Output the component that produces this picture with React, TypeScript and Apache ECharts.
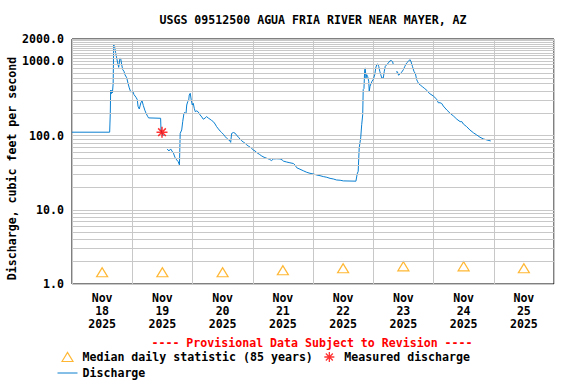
import React, { useEffect, useRef } from "react";
import * as echarts from "echarts";

const TITLE = "USGS 09512500 AGUA FRIA RIVER NEAR MAYER, AZ";
const PROVISIONAL = "---- Provisional Data Subject to Revision ----";
const Y_NAME = "Discharge, cubic feet per second";
const MEDIAN_NAME = "Median daily statistic (85 years)";
const MEASURED_NAME = "Measured discharge";
const DISCHARGE_NAME = "Discharge";

const START_UTC = Date.UTC(2025, 10, 18);
const DAY_MS = 86400000;
const HOUR_MS = 3600000;
const DAYS = 8;
const MONTHS = ["Jan", "Feb", "Mar", "Apr", "May", "Jun", "Jul", "Aug", "Sep", "Oct", "Nov", "Dec"];

// hours since Nov 18 2025 00:00
const dischargeHours = [
  0, 15.0, 15.25, 15.4, 15.6, 15.8, 16.1, 16.4, 16.6, 17.0, 17.4, 17.8, 18.2, 18.6, 19.1, 19.4, 19.8,
  20.2, 20.7, 21.1, 21.8, 22.3, 22.8, 23.4, 24.2, 24.7, 25.5, 26.0, 26.3, 26.8, 27.4, 27.9, 28.4, 29.0,
  29.5, 30.1, 30.5, 35.3, 35.45, 35.9, 36.4, 36.9, 37.9, 38.6, 39.3, 39.8, 40.4, 41.0, 41.7, 42.3, 42.8,
  43.1, 43.7, 44.1, 44.6, 45.0, 45.4, 45.7, 46.1, 46.5, 46.7, 47.1, 47.5, 47.9, 48.3, 48.7, 49.1, 49.7,
  50.3, 51.0, 51.7, 52.3, 53.0, 53.6, 54.3, 55.0, 55.6, 56.3, 57.0, 57.6, 58.3, 59.0, 59.6, 60.3, 61.0,
  61.6, 62.3, 62.9, 63.2, 63.6, 64.3, 64.9, 65.6, 66.3, 66.9, 67.6, 68.2, 68.9, 69.6, 70.2, 70.9, 71.6,
  72.2, 72.9, 73.6, 74.6, 75.6, 76.5, 77.6, 78.6, 79.5, 80.2, 81.5, 82.9, 83.7, 84.2, 85.5, 86.8, 88.2,
  88.8, 89.5, 90.8, 92.1, 93.5, 94.8, 96.1, 97.5, 98.8, 100.1, 101.5, 102.8, 104.1, 105.4, 106.8, 108.1,
  113.1, 113.6, 114.0, 114.4, 115.0, 115.4, 115.8, 116.0, 116.3, 116.6, 116.8, 117.1, 117.4, 117.8, 118.2,
  118.4, 118.7, 119.1, 119.5, 120.0, 120.6, 121.0, 121.4, 121.8, 122.2, 122.6, 123.0, 123.4, 124.0, 124.4,
  124.8, 125.4, 126.0, 126.7, 127.3, 127.7, 128.0, 128.5, 129.1, 129.6, 130.1, 130.7, 131.3, 132.0, 132.6,
  133.3, 134.0, 134.6, 135.0, 135.6, 136.2, 136.8, 137.3, 137.7, 138.2, 138.9, 139.7, 140.3, 141.0, 141.7,
  142.3, 143.9, 145.3, 145.9, 146.6, 147.3, 147.9, 149.3, 150.6, 151.9, 152.6, 153.3, 154.6, 155.3, 155.9,
  157.2, 158.5, 159.9, 161.2, 162.5, 163.8, 165.2, 166.8,
];

const dischargeCfs: (number | null)[] = [
  111, 111, 200, 410, 365, 405, 375, 500, 1680, 1550, 1300, 1110, 950, 830, 1110, 1090, 900,
  775, 735, 660, 600, 510, 440, 387, 397, 356, 328, 305, 248, 228, 275, 295, 255, 220,
  200, 182, 173, 171, 119, 107, 99, null, 66, 62, 66, 62, 58, 51, 47, 44.5, 40.2,
  107, 119, 154, 200, 205, 195, 258, 286, 300, 352, 371, 302, 258, 272, 233, 210, 215,
  208, 190, 178, 166, 172, 180, 172, 166, 160, 154, 143, 132, 123, 115, 110, 104, 97,
  92, 88, 85, 81, 107, 110, 108, 101, 95, 90, 85, 82, 79, 75, 72.4, 70, 67,
  64, 62, 59, 56, 53, 51, 49.4, 48, 46, 48.4, 48.7, 48.4, 47, 45.3, 44, 43, 42,
  40.2, 36.9, 35.2, 33.6, 32, 31, 30.4, 29.4, 28.8, 28, 27.4, 26.5, 26, 25.2, 25, 24.5,
  24.3, 30.4, 33, 68, 93, 140, 191, 416, 430, 773, 815, 597, 662, 620, 539,
  395, 460, 500, 539, 570, 662, 815, 903, 922, 850, 735, 660, 597, 597, 735,
  858, 900, 951, 1021, 1021, 990, 903, null, 719, 725, 650, 680, 713, 773, 858,
  951, 1000, 1054, 1000, 858, 735, 680, 567, 530, 496, 475, 452, 435, 416, 395,
  371, 342, 308, 277, 277, 270, 250, 221, 200, 184, 175, 166, 154, 154, 143,
  132, 119, 109, 102, 95, 90.2, 87.4, 84.6,
];

const medianDays = [18, 19, 20, 21, 22, 23, 24, 25];
const medianCfs = [1.44, 1.44, 1.44, 1.53, 1.63, 1.73, 1.73, 1.63];

const measuredHours = [35.85];
const measuredCfs = [111];

const yMinorGrid = [
  2, 3, 4, 5, 6, 7, 8, 9,
  20, 30, 40, 50, 60, 70, 80, 90,
  200, 300, 400, 500, 600, 700, 800, 900,
  1100, 1200, 1300, 1400, 1500, 1600, 1700, 1800, 1900,
];

const FONT_FAMILY = '"DejaVu Sans Mono", "Liberation Mono", monospace';
const FONT_SIZE = 11.6;
const GRID_COLOR = "#c8c8c8";
const LINE_COLOR = "#0a7fd0";
const MEDIAN_COLOR = "#ffa500";
const MEASURED_COLOR = "#ff0000";
const ASTERISK = "path://M5,0L5,10M0,5L10,5M1.5,1.5L8.5,8.5M1.5,8.5L8.5,1.5";
// legend icons drawn in a 20x10 box (the leading moves fix the box)
const LEGEND_TRIANGLE = "path://M0,0M20,10M4.5,9.5L10,0.5L15.5,9.5Z";
const LEGEND_ASTERISK = "path://M0,0M20,10M5,5L15,5M10,0L10,10M6.5,1.5L13.5,8.5M6.5,8.5L13.5,1.5";
const LEGEND_LINE = "path://M0,0M20,10M0,5L20,5";

export default function App() {
  const ref = useRef<HTMLDivElement>(null);

  useEffect(() => {
    if (!ref.current) return;
    document.body.style.margin = "0";
    const chart = echarts.init(ref.current, undefined, { renderer: "svg" });

    const dischargeData = dischargeHours.map((h, i) => [START_UTC + h * HOUR_MS, dischargeCfs[i]]);
    const medianData = medianDays.map((d, i) => [Date.UTC(2025, 10, d, 12), medianCfs[i]]);
    const measuredData = measuredHours.map((h, i) => [START_UTC + h * HOUR_MS, measuredCfs[i]]);

    const textBase = { fontFamily: FONT_FAMILY, fontSize: FONT_SIZE, fontWeight: "bold" as const, color: "#000" };

    chart.setOption({
      animation: false,
      backgroundColor: "#fff",
      grid: {
        left: 72,
        right: 22,
        top: 39,
        bottom: 100,
        show: true,
        borderColor: "#000",
        borderWidth: 1,
        backgroundColor: "transparent",
        containLabel: false,
        outerBoundsMode: "none",
      },
      xAxis: [
        {
          type: "value",
          min: START_UTC,
          max: START_UTC + DAYS * DAY_MS,
          interval: DAY_MS,
          axisLine: { show: false },
          axisTick: { show: false },
          axisLabel: { show: false },
          splitLine: { show: true, lineStyle: { color: GRID_COLOR, width: 1 } },
        },
        {
          type: "value",
          position: "bottom",
          min: START_UTC,
          max: START_UTC + DAYS * DAY_MS,
          interval: DAY_MS / 2,
          axisLine: { show: false },
          axisTick: { show: false },
          splitLine: { show: false },
          axisLabel: {
            ...textBase,
            margin: 7,
            lineHeight: 13,
            showMinLabel: true,
            showMaxLabel: true,
            formatter: (v: number) => {
              const d = new Date(v);
              if (d.getUTCHours() !== 12) return "";
              return `${MONTHS[d.getUTCMonth()]}\n${d.getUTCDate()}\n${d.getUTCFullYear()}`;
            },
          },
        },
      ],
      yAxis: {
        type: "log",
        logBase: 10,
        min: 1,
        max: 2000,
        name: Y_NAME,
        nameLocation: "middle",
        nameGap: 54,
        nameRotate: 90,
        nameMoveOverlap: false,
        nameTextStyle: { ...textBase, padding: [0, 14, 0, 0] },
        axisLine: { show: false },
        axisTick: { show: false },
        splitLine: { show: true, lineStyle: { color: GRID_COLOR, width: 1 } },
        axisLabel: {
          ...textBase,
          margin: 8,
          showMaxLabel: true,
          showMinLabel: true,
          formatter: (v: number) => Number(v).toFixed(1),
        },
      },
      legend: [
        {
          left: 55,
          top: 349.5,
          padding: 0,
          itemGap: 4,
          itemWidth: 20,
          itemHeight: 10,
          selectedMode: false,
          textStyle: { ...textBase, lineHeight: 14 },
          data: [
            {
              name: MEDIAN_NAME,
              icon: LEGEND_TRIANGLE,
              itemStyle: { color: "none", borderColor: MEDIAN_COLOR, borderWidth: 1.2 },
            },
            {
              name: MEASURED_NAME,
              icon: LEGEND_ASTERISK,
              itemStyle: { color: "none", borderColor: MEASURED_COLOR, borderWidth: 1.3 },
            },
          ],
        },
        {
          left: 55,
          top: 365.5,
          padding: 0,
          itemWidth: 20,
          itemHeight: 10,
          selectedMode: false,
          textStyle: { ...textBase, lineHeight: 14 },
          data: [
            {
              name: DISCHARGE_NAME,
              icon: LEGEND_LINE,
              itemStyle: { color: "none", borderColor: LINE_COLOR, borderWidth: 1 },
            },
          ],
        },
      ],
      graphic: [
        {
          type: "text",
          x: 313,
          y: 20,
          style: {
            text: TITLE,
            fill: "#000",
            font: `bold ${FONT_SIZE}px ${FONT_FAMILY}`,
            textAlign: "center",
            textVerticalAlign: "middle",
          },
        },
        {
          type: "text",
          x: 312,
          y: 342.5,
          style: {
            text: PROVISIONAL,
            fill: "#ff0000",
            font: `bold ${FONT_SIZE}px ${FONT_FAMILY}`,
            textAlign: "center",
            textVerticalAlign: "middle",
          },
        },
      ],
      series: [
        {
          name: "grid-minor",
          type: "line",
          data: [],
          z: 1,
          silent: true,
          markLine: {
            silent: true,
            symbol: ["none", "none"],
            label: { show: false },
            lineStyle: { color: GRID_COLOR, width: 1, type: "solid" },
            emphasis: { disabled: true },
            data: yMinorGrid.map((v) => ({ yAxis: v })),
          },
        },
        {
          name: DISCHARGE_NAME,
          type: "line",
          data: dischargeData,
          z: 3,
          symbol: "none",
          showSymbol: false,
          connectNulls: false,
          lineStyle: { color: LINE_COLOR, width: 1 },
          itemStyle: { color: LINE_COLOR },
        },
        {
          name: MEDIAN_NAME,
          type: "scatter",
          data: medianData,
          z: 4,
          symbol: "triangle",
          symbolSize: [11, 9],
          itemStyle: { color: "none", borderColor: MEDIAN_COLOR, borderWidth: 1.2 },
        },
        {
          name: MEASURED_NAME,
          type: "scatter",
          data: measuredData,
          z: 5,
          symbol: ASTERISK,
          symbolSize: 11,
          itemStyle: { color: "none", borderColor: MEASURED_COLOR, borderWidth: 1.5 },
        },
      ],
    });

    return () => chart.dispose();
  }, []);

  return <div ref={ref} style={{ width: 576, height: 384 }} />;
}
